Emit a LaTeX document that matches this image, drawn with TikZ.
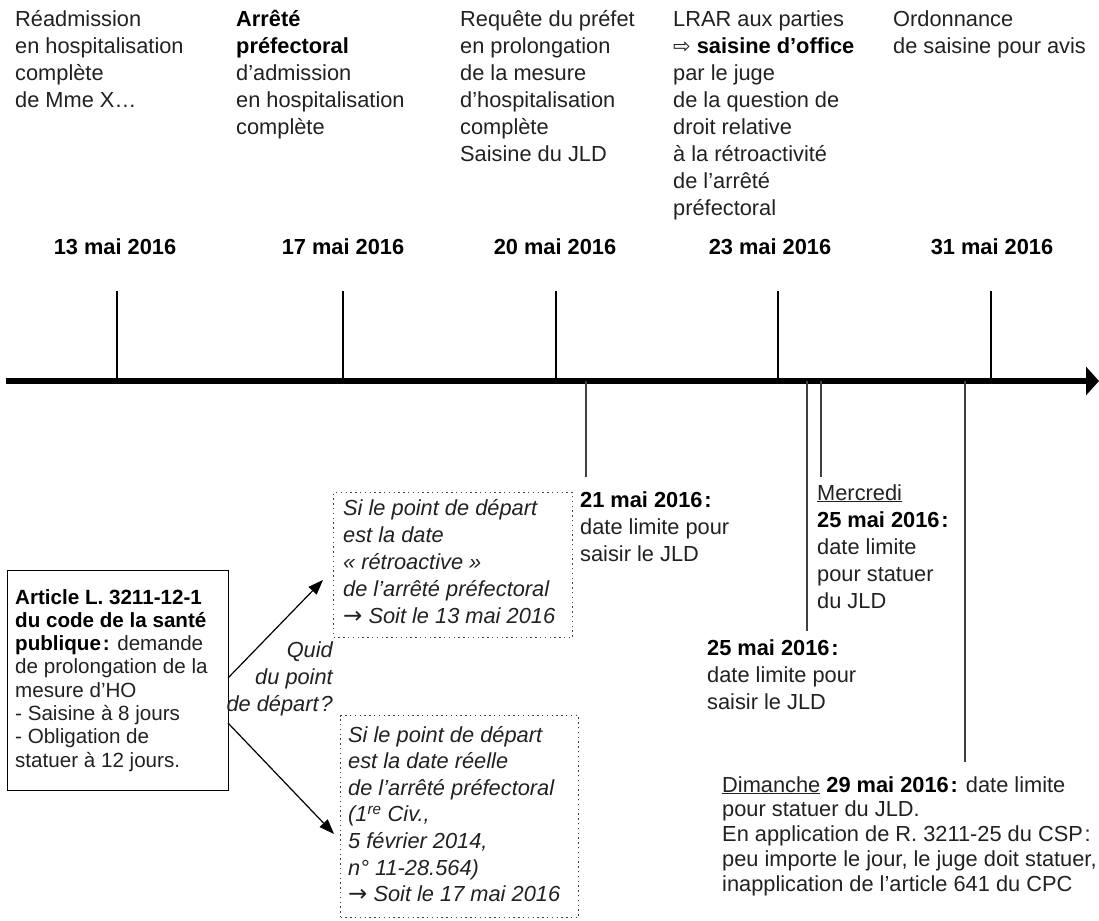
\documentclass[tikz,border=0pt]{standalone}
\usepackage{fontspec}
\setmainfont{Liberation Sans}
\newfontfamily\symfont{DejaVu Sans}
\usetikzlibrary{arrows.meta}
\definecolor{txt}{gray}{0.13}
\newcommand{\lines}[2][l]{\begin{tabular}[t]{@{}#1@{}}#2\end{tabular}}
\newcommand{\B}[1]{{\color{black}\bfseries #1}}
\newcommand{\cln}{\kern1.8pt:}
\newcommand{\rarr}{{\symfont\fontsize{23}{27}\selectfont →}}
\tikzset{
  txt/.style={anchor=base west, inner sep=0pt, text=txt, font=\fontsize{21.8}{27}\selectfont},
  itx/.style={txt, font=\fontsize{21.8}{27}\selectfont\itshape},
  datelbl/.style={anchor=base, inner sep=0pt, text=black, font=\fontsize{21.8}{27}\selectfont\bfseries},
  uptick/.style={line width=2pt, black},
  downtick/.style={line width=1.3pt, black!75},
  hypbox/.style={draw=black!75, line width=1.3pt, dash pattern=on 1.4pt off 3.4pt, anchor=north west, inner sep=0pt},
  linkarrow/.style={line width=1.2pt, -{Triangle[length=15pt,width=11pt]}}
}
\begin{document}
\begin{tikzpicture}[x=1pt, y=-1pt]
\useasboundingbox (0,0) rectangle (1099,920);

% axis
\coordinate (axs) at (6,381);
\coordinate (axe) at (1099,381);
\draw[line width=6pt, -{Triangle[length=13pt,width=28pt]}] (axs) -- (axe);

% upward ticks
\foreach \n/\x in {1/117, 2/343, 3/556, 4/778, 5/991}{
  \coordinate (ut\n) at (\x,291);
  \coordinate (ub\n) at (\x,381);
  \draw[uptick] (ut\n) -- (ub\n);
}

% downward ticks
\foreach \n/\x/\y in {1/586/477, 2/807/631, 3/821/477, 4/965/762}{
  \coordinate (da\n) at (\x,381);
  \coordinate (db\n) at (\x,\y);
  \draw[downtick] (da\n) -- (db\n);
}

% top texts
\node[txt] (c1) at (15,27) {\lines{Réadmission\\ en hospitalisation\\ complète\\ de Mme X…}};
\node[txt] (c2) at (236,27) {\lines{\B{Arrêté}\\ \B{préfectoral}\\ d’admission\\ en hospitalisation\\ complète}};
\node[txt] (c3) at (460,27) {\lines{Requête du préfet\\ en prolongation\\ de la mesure\\ d’hospitalisation\\ complète\\ Saisine du JLD}};
\node[txt] (c4) at (673,27) {\lines{LRAR aux parties\\ {\symfont\fontsize{21}{27}\selectfont ⇨} \B{saisine d’office}\\ par le juge\\ de la question de\\ droit relative\\ à la rétroactivité\\ de l’arrêté\\ préfectoral}};
\node[txt] (c5) at (893,27) {\lines{Ordonnance\\ de saisine pour avis}};

% dates
\node[datelbl] (d13) at (115,254) {13 mai 2016};
\node[datelbl] (d17) at (343,254) {17 mai 2016};
\node[datelbl] (d20) at (555,254) {20 mai 2016};
\node[datelbl] (d23) at (770,254) {23 mai 2016};
\node[datelbl] (d31) at (992,254) {31 mai 2016};

% lower labels
\node[txt] (n21) at (580,507) {\lines{\B{21 mai 2016\cln}\\ date limite pour\\ saisir le JLD}};
\node[txt] (n25b) at (817,500) {\lines{\underline{Mercredi}\\ \B{25 mai 2016\cln}\\ date limite\\ pour statuer\\ du JLD}};
\node[txt] (n25a) at (707,655) {\lines{\B{25 mai 2016\cln}\\ date limite pour\\ saisir le JLD}};
\node[txt, font=\fontsize{21.8}{24.8}\selectfont] (n29) at (722,792) {\lines{\underline{Dimanche} \B{29 mai 2016\cln} date limite\\ pour statuer du JLD.\\ En application de R. 3211-25 du CSP\cln\\ peu importe le jour, le juge doit statuer,\\ inapplication de l’article 641 du CPC}};

% article box
\node[draw, line width=1.2pt, anchor=north west, minimum width=221pt, minimum height=220pt, inner sep=0pt] (art) at (7,570) {};
\node[txt, font=\fontsize{20.6}{23.3}\selectfont] (artt) at (15,604) {\lines{\B{Article L. 3211-12-1}\\ \B{du code de la santé}\\ \B{publique\cln} demande\\ de prolongation de la\\ mesure d’HO\\ - Saisine à 8 jours\\ - Obligation de\\ statuer à 12 jours.}};

% question
\node[itx, anchor=base east] (quid) at (333,657) {\lines[r]{Quid\\ du point\\ de départ\kern2pt?}};

% hypothesis boxes
\node[hypbox, minimum width=239pt, minimum height=145pt] (hyp1) at (333,492) {};
\node[itx] (hyp1t) at (343,515) {\lines{Si le point de départ\\ est la date\\ «~rétroactive~»\\ de l’arrêté préfectoral\\ \rarr\ Soit le 13 mai 2016}};
\node[hypbox, minimum width=238pt, minimum height=202pt] (hyp2) at (340,715) {};
\node[itx, font=\fontsize{21.8}{26.6}\selectfont\itshape] (hyp2t) at (348,742) {\lines{Si le point de départ\\ est la date réelle\\ de l’arrêté préfectoral\\ (1\textsuperscript{re} Civ.,\\ 5 février 2014,\\ n° 11-28.564)\\ \rarr\ Soit le 17 mai 2016}};

% arrows
\coordinate (a1s) at (228,678);
\coordinate (a1e) at (323,580);
\coordinate (a2s) at (228,723);
\coordinate (a2e) at (334,834);
\draw[linkarrow] (a1s) -- (a1e);
\draw[linkarrow] (a2s) -- (a2e);
\end{tikzpicture}
\end{document}
